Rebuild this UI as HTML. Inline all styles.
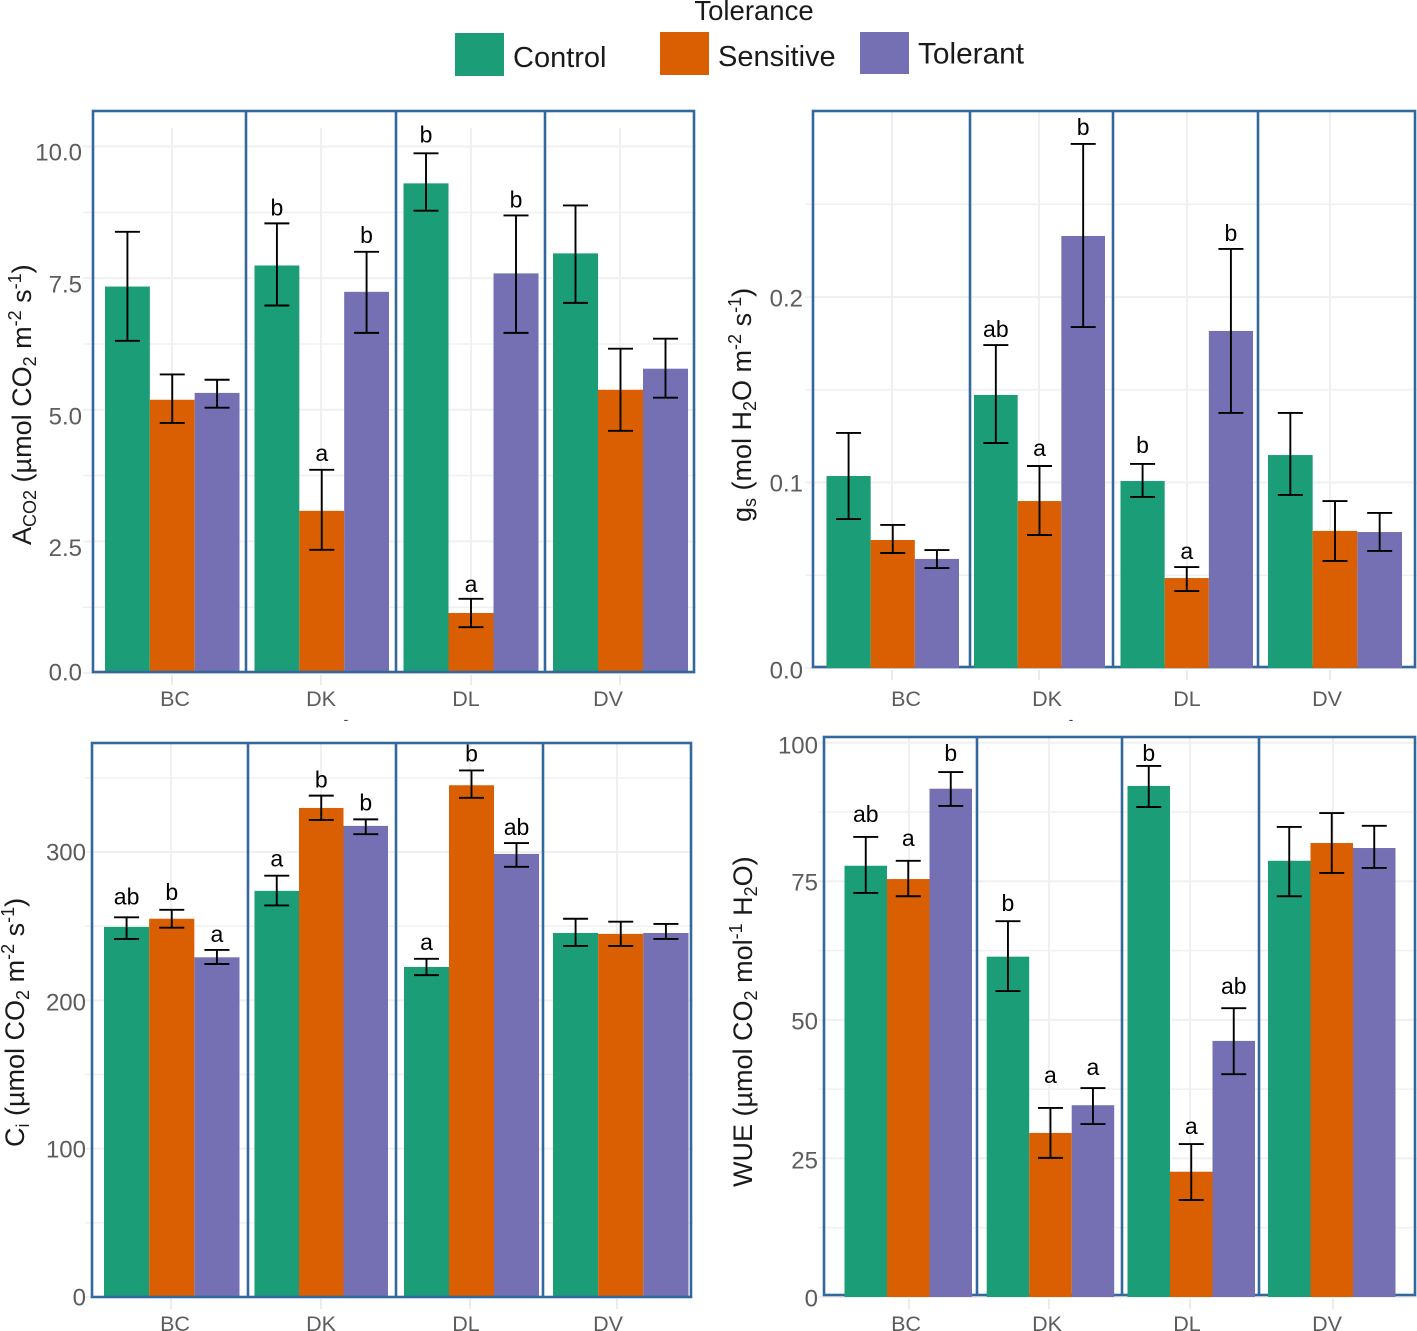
<!DOCTYPE html>
<html lang="en">
<head>
<meta charset="utf-8">
<title>Gas exchange by tolerance</title>
<style>
html,body{margin:0;padding:0;background:#fff;width:1417px;height:1331px;overflow:hidden}
svg{display:block;font-family:"Liberation Sans",sans-serif}
.ytitle{font-size:27px;fill:#1a1a1a}
.sm{font-size:18px}
</style>
</head>
<body>
<svg id="chart" width="1417" height="1331" viewBox="0 0 1417 1331" xmlns="http://www.w3.org/2000/svg">
  <rect x="0" y="0" width="1417" height="1331" fill="#ffffff"/>
  <g>
    <text x="754" y="20" font-size="27.5" text-anchor="middle" fill="#1a1a1a">Tolerance</text>
    <rect x="455" y="33" width="49" height="43" fill="#1b9e77"/>
    <text x="513" y="67" font-size="29" fill="#1a1a1a">Control</text>
    <rect x="660" y="32" width="49" height="43" fill="#d95f02"/>
    <text x="718" y="66" font-size="29" fill="#1a1a1a">Sensitive</text>
    <rect x="860" y="32" width="49" height="42" fill="#7570b3"/>
    <text x="918" y="63.5" font-size="29.8" fill="#1a1a1a">Tolerant</text>
  </g>
  <g id="panels"></g>
  <g id="titles">
    <text class="ytitle" transform="translate(31,545) rotate(-90)">A<tspan class="sm" dy="5">CO2</tspan><tspan dy="-5"> (µmol CO</tspan><tspan class="sm" dy="5">2</tspan><tspan dy="-5"> m</tspan><tspan class="sm" dy="-10">-2</tspan><tspan dy="10"> s</tspan><tspan class="sm" dy="-10">-1</tspan><tspan dy="10">)</tspan></text>
    <text class="ytitle" transform="translate(751,522) rotate(-90)">g<tspan class="sm" dy="5">s</tspan><tspan dy="-5"> (mol H</tspan><tspan class="sm" dy="5">2</tspan><tspan dy="-5">O m</tspan><tspan class="sm" dy="-10">-2</tspan><tspan dy="10"> s</tspan><tspan class="sm" dy="-10">-1</tspan><tspan dy="10">)</tspan></text>
    <text class="ytitle" transform="translate(24,1147) rotate(-90)">C<tspan class="sm" dy="5">i</tspan><tspan dy="-5"> (µmol CO</tspan><tspan class="sm" dy="5">2</tspan><tspan dy="-5"> m</tspan><tspan class="sm" dy="-10">-2</tspan><tspan dy="10"> s</tspan><tspan class="sm" dy="-10">-1</tspan><tspan dy="10">)</tspan></text>
    <text class="ytitle" transform="translate(752,1187) rotate(-90)">WUE (µmol CO<tspan class="sm" dy="5">2</tspan><tspan dy="-5"> mol</tspan><tspan class="sm" dy="-10">-1</tspan><tspan dy="10"> H</tspan><tspan class="sm" dy="5">2</tspan><tspan dy="-5">O)</tspan></text>
  </g>
  <text x="346" y="724" font-size="14" text-anchor="middle" fill="#444">-</text>
  <text x="1071" y="724" font-size="14" text-anchor="middle" fill="#444">-</text>
</svg>
<script>
// ---------- Data (rows: Control, Sensitive, Tolerant; columns: BC, DK, DL, DV) ----------
const categories = ['BC', 'DK', 'DL', 'DV'];
const seriesNames = ['control', 'sensitive', 'tolerant'];
const seriesColors = ['#1b9e77', '#d95f02', '#7570b3'];

const acoMean  = [[7.34, 7.74, 9.30, 7.97], [5.19, 3.08, 1.14, 5.38], [5.32, 7.24, 7.59, 5.78]];
const acoUpper = [[8.38, 8.54, 9.87, 8.88], [5.67, 3.86, 1.41, 6.16], [5.57, 8.00, 8.69, 6.35]];
const acoLower = [[6.31, 6.98, 8.78, 7.03], [4.75, 2.34, 0.87, 4.60], [5.04, 6.46, 6.46, 5.23]];
const acoLetters = [['', 'b', 'b', ''], ['', 'a', 'a', ''], ['', 'b', 'b', '']];
const acoTicks = [0, 2.5, 5, 7.5, 10];
const acoTickLabels = ['0.0', '2.5', '5.0', '7.5', '10.0'];

const gsMean  = [[0.1035, 0.1472, 0.1008, 0.1148], [0.0690, 0.0900, 0.0485, 0.0739], [0.0588, 0.2329, 0.1817, 0.0733]];
const gsUpper = [[0.1267, 0.1741, 0.1100, 0.1375], [0.0771, 0.1089, 0.0544, 0.0900], [0.0636, 0.2825, 0.2259, 0.0836]];
const gsLower = [[0.0803, 0.1213, 0.0922, 0.0933], [0.0620, 0.0717, 0.0415, 0.0577], [0.0539, 0.1838, 0.1375, 0.0631]];
const gsLetters = [['', 'ab', 'b', ''], ['', 'a', 'a', ''], ['', 'b', 'b', '']];
const gsTicks = [0, 0.1, 0.2];
const gsTickLabels = ['0.0', '0.1', '0.2'];

const ciMean  = [[249.5, 273.8, 222.5, 245.4], [255, 329.7, 345, 244.8], [229, 317.6, 298.7, 245.4]];
const ciUpper = [[256, 284, 228, 255], [261, 338, 355, 253], [234, 322, 306, 251.5]];
const ciLower = [[241.4, 264, 217, 236.7], [249, 321.6, 336.5, 236.7], [224.5, 312, 290, 241.4]];
const ciLetters = [['ab', 'a', 'a', ''], ['b', 'b', 'b', ''], ['a', 'b', 'ab', '']];
const ciTicks = [0, 100, 200, 300];
const ciTickLabels = ['0', '100', '200', '300'];

const wueMean  = [[77.8, 61.4, 92.2, 78.7], [75.4, 29.6, 22.6, 81.9], [91.7, 34.6, 46.2, 81.0]];
const wueUpper = [[83.0, 67.8, 95.8, 84.8], [78.7, 34.1, 27.6, 87.3], [94.7, 37.7, 52.1, 85.0]];
const wueLower = [[72.9, 55.2, 88.4, 72.3], [72.3, 25.1, 17.5, 76.5], [88.6, 31.2, 40.2, 77.4]];
const wueLetters = [['ab', 'b', 'b', ''], ['a', 'a', 'a', ''], ['b', 'a', 'ab', '']];
const wueTicks = [0, 25, 50, 75, 100];
const wueTickLabels = ['0', '25', '50', '75', '100'];

// ---------- Panel frames (layout only) ----------
const panels = [
  { id: 'aco2', mean: acoMean, upper: acoUpper, lower: acoLower, letters: acoLetters, ticks: acoTicks, tickLabels: acoTickLabels,
    domainMax: 10, gridMax: 10, pxBase: 673, pxMax: 146.5, labelNudge: [-1, 6, 6, 6, 5.5], labelRight: 82, gridLeft: 83,
    letterNudge: [[0, 0, -3, 0], [0, -1, 1, 0], [0, -1, 0, 0]],
    boxTop: 111, boxBottom: 672, facetEdges: [93, 246, 396, 545, 694], groupStarts: [105, 254.5, 403.5, 553], groupWidths: [134.5, 134.5, 135, 135],
    gridXs: [172, 321, 471, 620], gridTop: 128, catLabelXs: [175, 321, 466, 608], catY: 706, boxOnTop: true },
  { id: 'gs', mean: gsMean, upper: gsUpper, lower: gsLower, letters: gsLetters, ticks: gsTicks, tickLabels: gsTickLabels,
    domainMax: 0.2, gridMax: 0.25, pxBase: 668, pxMax: 297, labelNudge: [2, 0.5, 1], labelRight: 803, gridLeft: 805,
    letterNudge: [[0, 0, -3, 0], [0, -2, 0, 0], [0, -1, 0, 0]],
    boxTop: 111, boxBottom: 667, facetEdges: [813, 970, 1113, 1258, 1415], groupStarts: [826.5, 974, 1120.5, 1268], groupWidths: [132.5, 131, 132.5, 134],
    gridXs: [892, 1039, 1187, 1330], gridTop: 111, catLabelXs: [906, 1047, 1187, 1327], catY: 706, boxOnTop: false },
  { id: 'ci', mean: ciMean, upper: ciUpper, lower: ciLower, letters: ciLetters, ticks: ciTicks, tickLabels: ciTickLabels,
    domainMax: 300, gridMax: 350, pxBase: 1297, pxMax: 852, labelNudge: [0, 0.5, 1.7, 0], labelRight: 86, gridLeft: 85,
    letterNudge: [[-5, -1, -1, 0], [-2, 0, -1, 0], [0, -1, 0, 0]],
    boxTop: 743, boxBottom: 1297, facetEdges: [92, 248, 396, 543, 691], groupStarts: [104, 254.5, 404, 553], groupWidths: [135.5, 133.5, 135, 135.5],
    gridXs: [171, 321, 470, 617], gridTop: 743, catLabelXs: [175, 321, 466, 608], catY: 1331, boxOnTop: true },
  { id: 'wue', mean: wueMean, upper: wueUpper, lower: wueLower, letters: wueLetters, ticks: wueTicks, tickLabels: wueTickLabels,
    domainMax: 100, gridMax: 100, pxBase: 1297, pxMax: 742.7, labelNudge: [1, 1.5, 1, 0.5, 2.3], labelRight: 818, gridLeft: 818,
    letterNudge: [[-7, -2, 3, 0], [-7, -17, -2, 0], [-3, -5, -6, 0]],
    boxTop: 737, boxBottom: 1295, facetEdges: [824, 977, 1122, 1259, 1415], groupStarts: [844.5, 986.7, 1127.5, 1268], groupWidths: [127.5, 127.5, 127.5, 127.5],
    gridXs: [909, 1049, 1190, 1333], gridTop: 737, catLabelXs: [906, 1047, 1187, 1327], catY: 1331, boxOnTop: false }
];

// ---------- Rendering ----------
const NS = 'http://www.w3.org/2000/svg';
const root = document.getElementById('panels');

function shape(parent, tag, props, text) {
  const node = document.createElementNS(NS, tag);
  for (const k in props) node.setAttribute(k, props[k]);
  if (text !== undefined) node.textContent = text;
  parent.appendChild(node);
  return node;
}

function drawBox(g, p) {
  const box = shape(g, 'rect', { x: p.facetEdges[0], y: p.boxTop, width: p.facetEdges[4] - p.facetEdges[0], height: p.boxBottom - p.boxTop, fill: 'none', stroke: '#33689c', 'stroke-width': 2.6 });
  
  
  for (let i = 1; i < p.facetEdges.length - 1; i++) {
    const sep = shape(g, 'line', { x1: p.facetEdges[i], x2: p.facetEdges[i], y1: p.boxTop, y2: p.boxBottom, stroke: '#33689c', 'stroke-width': 2.6 });
    
    
  }
}

panels.forEach(function (p) {
  const yScale = function (v) { return p.pxBase + (p.pxMax - p.pxBase) * v / p.domainMax; };
  const barWidth = function (g) { return p.groupWidths[g] / seriesNames.length; };
  const xBar = function (g, s) { return p.groupStarts[g] + s * barWidth(g); };

  const g = shape(root, 'g', {});
  
  

  // Horizontal grid: majors at ticks, minors halfway between
  const tickStep = p.ticks[1] - p.ticks[0];
  const gridCount = Math.round(p.gridMax / (tickStep / 2));
  for (let i = 0; i <= gridCount; i++) {
    const v = i * tickStep / 2;
    const line = shape(g, 'line', { x1: p.gridLeft, x2: p.facetEdges[4] + 2, y1: yScale(v), y2: yScale(v), stroke: '#f0f0f0', 'stroke-width': i % 2 === 0 ? 2 : 1.5 });
    
    
  }

  // Vertical grid and x ticks
  p.gridXs.forEach(function (x) {
    const line = shape(g, 'line', { x1: x, x2: x, y1: p.gridTop, y2: p.pxBase, stroke: '#f0f0f0', 'stroke-width': 2 });
    
    
    const tick = shape(g, 'line', { x1: x, x2: x, y1: p.pxBase + 2, y2: p.pxBase + 12, stroke: '#ebebeb', 'stroke-width': 2 });
    
    
  });

  if (!p.boxOnTop) drawBox(g, p);

  // Bars
  seriesNames.forEach(function (name, s) {
    categories.forEach(function (cat, c) {
      const top = yScale(p.mean[s][c]);
      const bar = shape(g, 'rect', { x: xBar(c, s), y: top, width: barWidth(c), height: p.pxBase - top, fill: seriesColors[s] });
      
      
    });
  });

  if (p.boxOnTop) drawBox(g, p);

  // Error bars and significance letters
  seriesNames.forEach(function (name, s) {
    categories.forEach(function (cat, c) {
      const cx = xBar(c, s) + barWidth(c) / 2;
      const hi = yScale(p.upper[s][c]);
      const lo = yScale(p.lower[s][c]);
      const err = shape(g, 'path', { d: 'M' + (cx - 12.5) + ' ' + hi + 'H' + (cx + 12.5) + 'M' + cx + ' ' + hi + 'V' + lo + 'M' + (cx - 12.5) + ' ' + lo + 'H' + (cx + 12.5), fill: 'none', stroke: '#000', 'stroke-width': 1.9 });
      
      
      const letter = p.letters[s][c];
      if (letter) {
        const t = shape(g, 'text', { x: cx, y: hi - 8 + p.letterNudge[s][c], 'font-size': 23, 'text-anchor': 'middle', fill: '#000' }, letter);
        
        
      }
    });
  });

  // Y tick labels
  p.ticks.forEach(function (v, i) {
    const t = shape(g, 'text', { x: p.labelRight, y: yScale(v) + p.labelNudge[i] + 8.5, 'font-size': 24, 'text-anchor': 'end', fill: '#5c5c5c' }, p.tickLabels[i]);
    
    
  });

  // X category labels
  categories.forEach(function (cat, c) {
    const t = shape(g, 'text', { x: p.catLabelXs[c], y: p.catY, 'font-size': 21.5, 'text-anchor': 'middle', fill: '#5c5c5c' }, cat);
    
    
  });
});
</script>
</body>
</html>
